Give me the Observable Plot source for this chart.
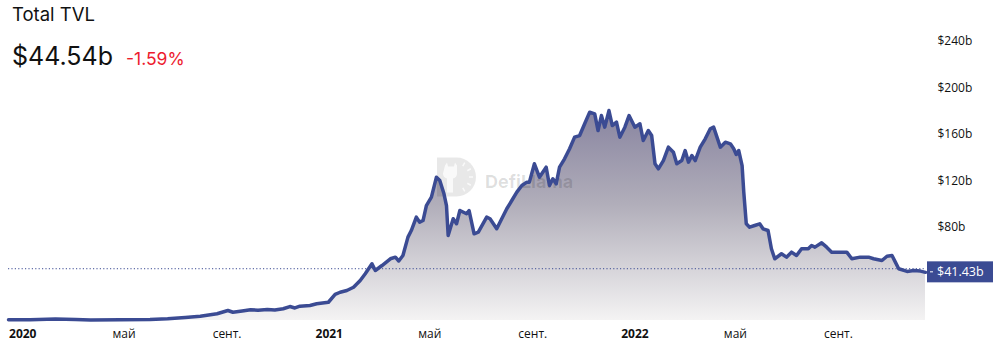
<!DOCTYPE html>
<html>
<head>
<meta charset="utf-8">
<script src="https://cdn.jsdelivr.net/npm/d3@7"></script>
<script src="https://cdn.jsdelivr.net/npm/@observablehq/plot@0.6"></script>
<style>
  html, body { margin: 0; padding: 0; background: #fff; }
  #wrap { position: relative; width: 1000px; height: 344px; overflow: hidden; }
  #head { position: absolute; left: 12px; top: 0; font-family: Inter, "Noto Sans", sans-serif; color: #111; pointer-events: none; }
  #title { position: absolute; left: 0; top: 5px; font-size: 18.5px; line-height: 18px; white-space: nowrap; }
  #row { position: absolute; left: 0; top: 44px; white-space: nowrap; display: flex; align-items: baseline; }
  #value { font-size: 25px; line-height: 25px; }
  #change { font-size: 17.5px; line-height: 17px; color: #ed1b2e; margin-left: 13px; }
</style>
</head>
<body>
<div id="wrap">
  <div id="chart"></div>
  <div id="head">
    <div id="title"></div>
    <div id="row"><span id="value"></span><span id="change"></span></div>
  </div>
</div>
<script>
// ---- data ----
const titleText = "Total TVL";
const headlineValue = 44.54;     // $b, shown in header and as dotted reference line
const headlineChange = "-1.59%";
const lastValue = 41.43;         // $b, price tag on the right axis

const dates = ["2019-12-15","2020-01-10","2020-02-09","2020-03-04","2020-03-22","2020-04-27","2020-06-01","2020-06-22","2020-07-13","2020-07-31","2020-08-20","2020-09-02","2020-09-08","2020-09-19","2020-09-29","2020-10-08","2020-10-19","2020-10-28","2020-11-07","2020-11-15","2020-11-21","2020-11-27","2020-12-09","2020-12-17","2020-12-31",
"2021-01-08","2021-01-14","2021-01-22","2021-01-30","2021-02-07","2021-02-13","2021-02-21","2021-02-25","2021-03-05","2021-03-15","2021-03-21","2021-03-25","2021-03-30","2021-04-05","2021-04-09","2021-04-15","2021-04-19","2021-04-23","2021-04-27","2021-05-03","2021-05-09","2021-05-13","2021-05-18","2021-05-21","2021-05-23","2021-05-29","2021-06-02","2021-06-06","2021-06-14","2021-06-17","2021-06-23","2021-06-28","2021-07-08","2021-07-12","2021-07-20","2021-07-26","2021-08-01","2021-08-07","2021-08-13","2021-08-19","2021-08-25","2021-08-28","2021-09-03","2021-09-09","2021-09-17","2021-09-21","2021-09-25","2021-09-29","2021-10-03","2021-10-09","2021-10-15","2021-10-21","2021-10-27","2021-11-02","2021-11-08","2021-11-14","2021-11-18","2021-11-22","2021-11-26","2021-12-01","2021-12-05","2021-12-10","2021-12-14","2021-12-20","2021-12-25",
"2022-01-01","2022-01-07","2022-01-11","2022-01-17","2022-01-21","2022-01-25","2022-01-29","2022-02-04","2022-02-10","2022-02-16","2022-02-20","2022-02-26","2022-03-02","2022-03-06","2022-03-10","2022-03-14","2022-03-20","2022-03-26","2022-04-01","2022-04-05","2022-04-09","2022-04-13","2022-04-19","2022-04-25","2022-04-29","2022-05-02","2022-05-05","2022-05-09","2022-05-11","2022-05-14","2022-05-18","2022-05-24","2022-05-30","2022-06-03","2022-06-09","2022-06-13","2022-06-17","2022-06-25","2022-07-01","2022-07-07","2022-07-13","2022-07-19","2022-07-27","2022-07-31","2022-08-04","2022-08-12","2022-08-18","2022-08-24","2022-09-01","2022-09-11","2022-09-17","2022-09-27","2022-10-07","2022-10-13","2022-10-23","2022-10-29","2022-11-04","2022-11-08","2022-11-12","2022-11-22","2022-11-30","2022-12-08","2022-12-14"];

const tvl = [0.7,0.7,1.2,0.9,0.5,0.7,0.9,1.5,2.6,3.7,5.8,8.6,7.1,8.2,9.2,8.9,9.5,9.0,10.1,12.0,10.8,12.3,12.9,14.4,15.7,
22.4,24.3,25.8,28.6,34.4,40.2,48.8,43.0,47.3,53.1,54.5,51.2,55.9,71.7,77.4,88.9,84.6,86.0,98.9,106.1,123.3,120.4,109.0,98.9,73.1,87.5,83.2,94.6,91.8,94.6,74.6,76.0,88.9,87.5,78.9,87.5,96.1,103.2,110.4,116.1,119.0,119.0,134.8,123.3,131.9,116.1,121.9,117.6,131.9,139.1,147.7,157.7,159.1,169.2,179.2,177.8,163.4,176.3,166.3,180.6,167.7,170.6,157.7,166.3,176.3,
166.3,169.2,154.8,163.4,159.1,134.8,130.5,137.6,149.1,144.8,134.8,137.6,146.2,136.2,141.9,137.6,149.1,156.3,164.9,166.3,157.7,149.1,153.4,152.0,147.7,142.8,146.2,133.3,110.4,83.2,80.3,81.7,83.2,78.9,77.4,61.7,53.1,57.4,54.5,58.8,55.9,61.7,61.7,64.5,63.1,66.8,63.1,58.8,58.8,58.8,53.1,54.5,54.5,53.1,51.6,55.3,55.9,50.2,44.5,42.2,43.0,42.5,41.43];

const yTicks = [80, 120, 160, 200, 240];
const yearTicks = ["2020-01-01", "2021-01-01", "2022-01-01"];
const monthTicks = ["2020-05-01", "2020-09-01", "2021-05-01", "2021-09-01", "2022-05-01", "2022-09-01"];
const monthNames = {4: "май", 8: "сент."};

// ---- build ----
const data = dates.map((d, i) => ({date: new Date(d), tvl: tvl[i]}));
const blue = "#3b4b93";

document.getElementById("title").textContent = titleText;
document.getElementById("value").textContent = "$" + headlineValue.toFixed(2) + "b";
document.getElementById("change").textContent = headlineChange;

function gradientDefs() {
  const defs = d3.create("svg:defs");
  const lg = defs.append("linearGradient").attr("id", "tvlGrad")
    .attr("x1", 0).attr("y1", 0).attr("x2", 0).attr("y2", 1);
  lg.append("stop").attr("offset", 0).attr("stop-color", "#8884a0");
  lg.append("stop").attr("offset", 0.45).attr("stop-color", "#b1aeba");
  lg.append("stop").attr("offset", 1).attr("stop-color", "#f4f3f3");
  return defs.node();
}

function watermark(index, scales, values, dims) {
  const cx = (dims.marginLeft + dims.width - dims.marginRight) / 2;
  const cy = (dims.marginTop + dims.height - dims.marginBottom) / 2;
  const g = d3.create("svg:g").attr("pointer-events", "none");
  const lx = cx - 29.5, ty = cy - 23, r = 19.5;
  g.append("path")
    .attr("d", `M${lx},${ty} h${r} a${r},${r} 0 0 1 0,${2 * r} h${-r} z`)
    .attr("fill", "#000").attr("fill-opacity", 0.09);
  // llama head
  const hx = lx + 14, hy = ty + 8;
  g.append("path")
    .attr("d", `M${hx-6},${hy} l2,-3 l1,4 h6 l1,-4 l2,3 l0,8 q0,4 -4,5 l0,14 h-6 l0,-14 q-4,-1 -4,-5 z`)
    .attr("fill", "#fff").attr("fill-opacity", 0.75);
  // clock-like ticks
  for (let a = -60; a <= 60; a += 30) {
    const rad = a * Math.PI / 180, c = {x: lx + r, y: ty + r};
    g.append("line")
      .attr("x1", c.x + Math.cos(rad) * (r - 7)).attr("y1", c.y + Math.sin(rad) * (r - 7))
      .attr("x2", c.x + Math.cos(rad) * (r - 3)).attr("y2", c.y + Math.sin(rad) * (r - 3))
      .attr("stroke", "#fff").attr("stroke-opacity", 0.75).attr("stroke-width", 1.5);
  }
  g.append("text").attr("x", cx + 18.5).attr("y", cy + 7.5).attr("text-anchor", "start")
    .attr("font-family", "Inter, sans-serif").attr("font-weight", 700).attr("font-size", 18)
    .attr("fill", "#000").attr("fill-opacity", 0.13).text("DefiLlama");
  return g.node();
}

function priceTag(index, scales, values, dims) {
  const y = scales.y(lastValue);
  const x0 = dims.width - dims.marginRight + 2;
  const g = d3.create("svg:g");
  g.append("rect").attr("x", x0).attr("y", y - 10.5).attr("width", 66).attr("height", 21).attr("fill", blue);
  g.append("line").attr("x1", x0 + 3).attr("x2", x0 + 6).attr("y1", y).attr("y2", y).attr("stroke", "#fff");
  g.append("text").attr("x", x0 + 10).attr("y", y).attr("dy", "0.35em").attr("text-anchor", "start")
    .attr("fill", "#fff").attr("font-size", 12.5).text("$" + lastValue.toFixed(2) + "b");
  return g.node();
}

const chart = Plot.plot({
  width: 1000,
  height: 344,
  marginLeft: 8,
  marginRight: 75,
  marginTop: 41,
  marginBottom: 24,
  x: {type: "utc", domain: [data[0].date, data[data.length - 1].date], label: null},
  y: {domain: [0, 240], label: null},
  style: {fontFamily: "'Open Sans', 'Liberation Sans', sans-serif", fontSize: "12px", color: "#111", background: "#fff", overflow: "visible"},
  marks: [
    gradientDefs,
    Plot.areaY(data, {x: "date", y: "tvl", fill: "url(#tvlGrad)"}),
    watermark,
    Plot.ruleY([headlineValue], {stroke: blue, strokeWidth: 1, strokeDasharray: "1.2,2.2"}),
    Plot.lineY(data, {x: "date", y: "tvl", stroke: blue, strokeWidth: 3.5, strokeLinejoin: "round"}),
    Plot.axisY({anchor: "right", ticks: yTicks, tickFormat: d => `$${d}b`, tickSize: 0, tickPadding: 12, textAnchor: "start", label: null}),
    Plot.axisX(yearTicks.map(d => new Date(d)), {tickSize: 0, tickPadding: 9, tickFormat: d => String(d.getUTCFullYear()), fontWeight: "bold", label: null}),
    Plot.axisX(monthTicks.map(d => new Date(d)), {tickSize: 0, tickPadding: 9, tickFormat: d => monthNames[d.getUTCMonth()], label: null}),
    priceTag
  ]
});
document.getElementById("chart").appendChild(chart);
</script>
</body>
</html>
